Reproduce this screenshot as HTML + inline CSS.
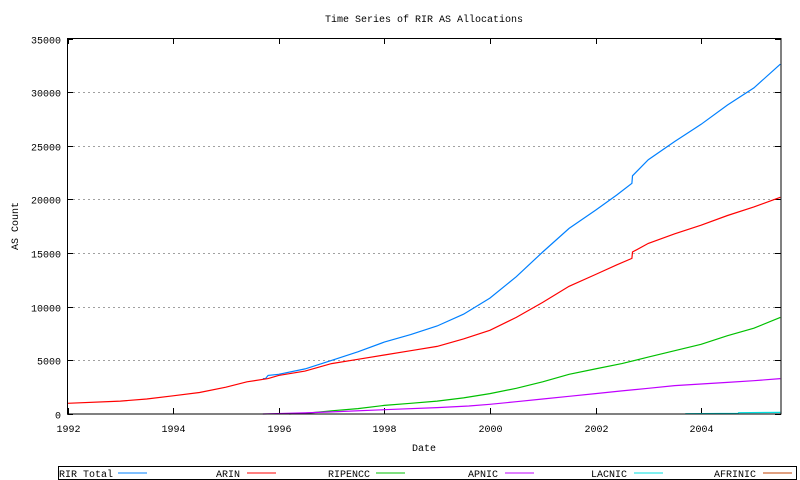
<!DOCTYPE html>
<html><head><style>
body{margin:0;background:#fff}
svg{display:block;font-family:"Liberation Mono","DejaVu Sans Mono",monospace;font-size:10px}
</style></head><body>
<svg id="s" width="800" height="480" xmlns="http://www.w3.org/2000/svg">
<rect width="800" height="480" fill="#fff"/>
<text x="424" y="22" text-anchor="middle">Time Series of RIR AS Allocations</text>
<g id="grid" stroke="#a0a0a0" stroke-dasharray="2,3" stroke-width="1"></g>
<g id="ticks" stroke="#000"></g>
<g id="labels"></g>
<text x="18" y="226" text-anchor="middle" transform="rotate(-90 18 226)">AS Count</text>
<text x="424" y="451" text-anchor="middle">Date</text>
<g id="series" fill="none" stroke-width="1.2"></g>
<rect x="67.5" y="38.5" width="713.5" height="375.5" fill="none" stroke="#000"/>
<rect x="58.5" y="466.5" width="738" height="13" fill="none" stroke="#000"/>
<g>
<text x="59" y="477">RIR Total</text><line x1="118" y1="473" x2="147" y2="473" stroke="#0080ff"/>
<text x="216" y="477">ARIN</text><line x1="247" y1="473" x2="276" y2="473" stroke="#ff0000"/>
<text x="328" y="477">RIPENCC</text><line x1="376" y1="473" x2="405" y2="473" stroke="#00c000"/>
<text x="468" y="477">APNIC</text><line x1="505" y1="473" x2="534" y2="473" stroke="#c000ff"/>
<text x="591" y="477">LACNIC</text><line x1="634" y1="473" x2="663" y2="473" stroke="#00e0e0"/>
<text x="714" y="477">AFRINIC</text><line x1="763" y1="473" x2="792" y2="473" stroke="#c04000"/>
</g>
</svg>
<script>
const NS="http://www.w3.org/2000/svg";
const X=y=>67.5+(y-1992)*52.8, Y=v=>414-v*375.5/35000;
function el(p,t,a,txt){const e=document.createElementNS(NS,t);for(const k in a)e.setAttribute(k,a[k]);if(txt)e.textContent=txt;document.getElementById(p).appendChild(e);}
for(let v=0;v<=35000;v+=5000){const y=Math.round(Y(v))+0.5;
 if(v>0&&v<35000)el("grid","line",{x1:68,x2:781,y1:y,y2:y});
 el("ticks","line",{x1:67.5,x2:73,y1:y,y2:y});el("ticks","line",{x1:781,x2:775,y1:y,y2:y});
 el("labels","text",{x:61,y:y+4,"text-anchor":"end"},String(v));}
for(let yr=1992;yr<=2004;yr+=2){const x=Math.round(X(yr))+0.5;
 el("ticks","line",{x1:x,x2:x,y1:414,y2:408});el("ticks","line",{x1:x,x2:x,y1:38.5,y2:44});
 el("labels","text",{x:x,y:432,"text-anchor":"middle"},String(yr));}
const S=[
["#0080ff",[[1995.7,3300],[1995.75,3300],[1995.8,3600],[1996,3700],[1996.5,4200],[1997,5000],[1997.5,5800],[1998,6700],[1998.5,7400],[1999,8200],[1999.5,9300],[2000,10800],[2000.5,12800],[2001,15100],[2001.5,17300],[2002,19000],[2002.4,20400],[2002.69,21500],[2002.7,22200],[2003,23700],[2003.5,25400],[2004,27000],[2004.5,28800],[2005,30400],[2005.5,32600]]],
["#ff0000",[[1992,1000],[1993,1200],[1993.5,1400],[1994,1700],[1994.5,2000],[1995,2500],[1995.4,3000],[1995.8,3300],[1996,3600],[1996.5,4000],[1997,4700],[1997.5,5100],[1998,5500],[1998.5,5900],[1999,6300],[1999.5,7000],[2000,7800],[2000.5,9000],[2001,10400],[2001.5,11900],[2002,13000],[2002.4,13900],[2002.69,14500],[2002.7,15100],[2003,15900],[2003.5,16800],[2004,17600],[2004.5,18500],[2005,19300],[2005.5,20200]]],
["#00c000",[[1996.2,0],[1996.6,100],[1997,300],[1997.5,500],[1998,800],[1998.5,1000],[1999,1200],[1999.5,1500],[2000,1900],[2000.5,2400],[2001,3000],[2001.5,3700],[2002,4200],[2002.5,4700],[2003,5300],[2003.5,5900],[2004,6500],[2004.5,7300],[2005,8000],[2005.5,9000]]],
["#c000ff",[[1995.7,0],[1996.5,100],[1997,200],[1998,400],[1999,600],[1999.6,750],[2000,900],[2000.5,1150],[2001,1400],[2001.5,1650],[2002,1900],[2002.5,2150],[2003,2400],[2003.5,2650],[2004,2800],[2004.5,2950],[2005,3100],[2005.5,3300]]],
["#00e0e0",[[2003.7,30],[2004.7,60],[2004.71,120],[2005.5,150]]]
];
for(const [c,pts] of S){let d="";
 pts.forEach(([t,v],i)=>{d+=(i?"L":"M")+X(t).toFixed(1)+","+Y(v).toFixed(1);});
 el("series","path",{d:d,stroke:c});}
</script>
</body></html>
